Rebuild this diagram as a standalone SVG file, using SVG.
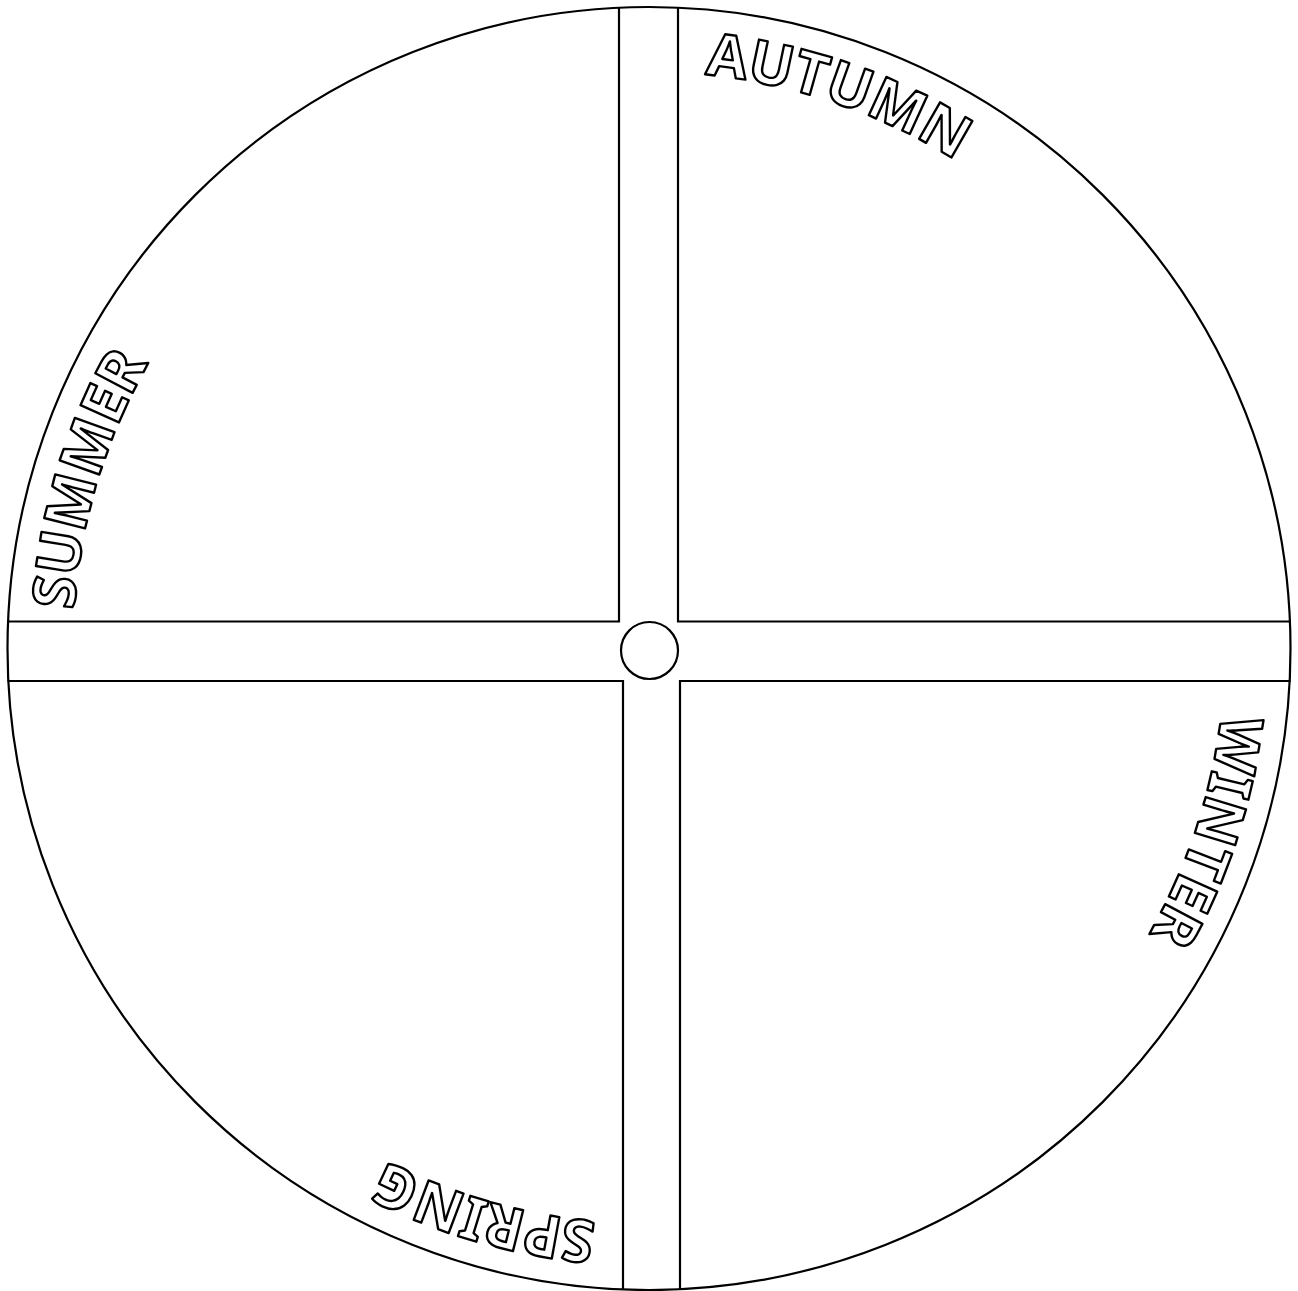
<svg xmlns="http://www.w3.org/2000/svg" width="1298" height="1291" viewBox="0 0 1298 1291">
<style>
.ln{fill:none;stroke:#000;stroke-width:2.2}
.lbl{font-family:"Noto Sans","Open Sans","DejaVu Sans",sans-serif;font-weight:700;font-size:59px;fill:#fff;stroke:#000;stroke-width:2.4;stroke-linejoin:round}
</style>
<defs>
<path id="ring" d="M 649,72 A 576 576 0 1 1 649,1224 A 576 576 0 1 1 649,72"/>
</defs>
<rect width="1298" height="1291" fill="#fff"/>
<g id="outer"><circle class="ln" cx="649" cy="648.5" r="641.5"/></g>
<g id="quadrants">
<path id="q-tl" class="ln" d="M 619,8 L 619,621.5 L 7.5,621.5"/>
<path id="q-tr" class="ln" d="M 678,8 L 678,621.5 L 1290.5,621.5"/>
<path id="q-bl" class="ln" d="M 7.5,681 L 623,681 L 623,1289"/>
<path id="q-br" class="ln" d="M 1290.5,681 L 680,681 L 680,1289"/>
</g>
<g id="hub"><circle class="ln" cx="649.5" cy="650.5" r="28.5"/></g>
<g id="labels">
<text class="lbl"><textPath href="#ring" startOffset="56">AUTUMN</textPath></text>
<text class="lbl"><textPath href="#ring" startOffset="970">WINTER</textPath></text>
<text class="lbl"><textPath href="#ring" startOffset="1862">SPRING</textPath></text>
<text class="lbl"><textPath href="#ring" startOffset="2752">SUMMER</textPath></text>
</g>
</svg>
